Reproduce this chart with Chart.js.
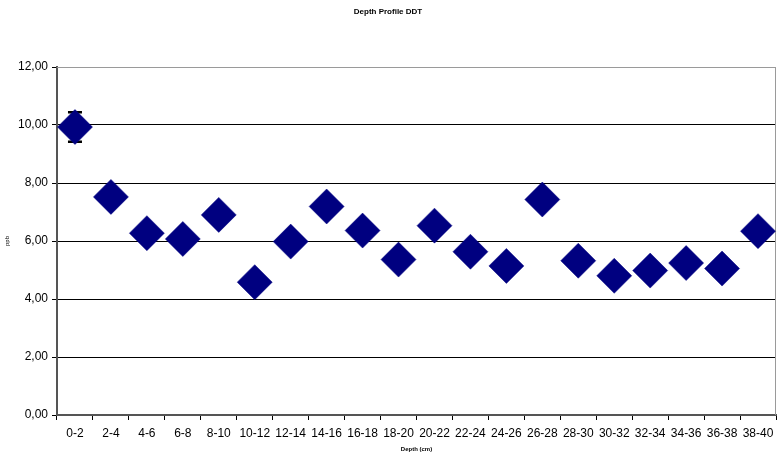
<!DOCTYPE html>
<html lang="en">
  <head>
    <meta charset="UTF-8" />
    <title>Depth Profile DDT</title>
    <style>
      body {
        margin: 0;
        background: #fff;
      }
      canvas {
        display: block;
      }
    </style>
  </head>
  <body>
    <canvas id="depthChart" width="778" height="454"></canvas>

    <script src="https://cdn.jsdelivr.net/npm/chart.js"></script>
    <script>
      // values
      const depths = [
        "0-2", "2-4", "4-6", "6-8", "8-10", "10-12", "12-14", "14-16", "16-18", "18-20",
        "20-22", "22-24", "24-26", "26-28", "28-30", "30-32", "32-34", "34-36", "36-38", "38-40",
      ];
      const ddtPpb = [
        9.93, 7.52, 6.27, 6.07, 6.9, 4.58, 5.98, 7.19, 6.36, 5.36,
        6.53, 5.63, 5.14, 7.43, 5.32, 4.8, 4.98, 5.24, 5.05, 6.34,
      ];
      // only the top slice has a visible error bar
      const ddtError = [
        0.51, null, null, null, null, null, null, null, null, null,
        null, null, null, null, null, null, null, null, null, null,
      ];
      const yTicks = [0, 2, 4, 6, 8, 10, 12];

      const font = "'Liberation Sans', Arial, sans-serif";

      // gray frame round the plot area, like the spreadsheet original
      const plotFrame = {
        id: "plotFrame",
        beforeDatasetsDraw(chart) {
          const { ctx, chartArea: a } = chart;
          ctx.save();
          ctx.strokeStyle = "#9a9a9a";
          ctx.lineWidth = 1;
          ctx.beginPath();
          ctx.moveTo(a.left, a.top + 0.5);
          ctx.lineTo(a.right - 0.5, a.top + 0.5);
          ctx.lineTo(a.right - 0.5, a.bottom);
          ctx.stroke();
          ctx.restore();
        },
      };

      // error bars, drawn under the diamonds
      const errorBars = {
        id: "errorBars",
        beforeDatasetsDraw(chart) {
          const { ctx } = chart;
          const xs = chart.scales.x;
          const ys = chart.scales.y;
          ctx.save();
          ctx.strokeStyle = "#000";
          ddtError.forEach((e, i) => {
            if (e == null) return;
            const x = xs.getPixelForValue(i);
            const yHi = ys.getPixelForValue(ddtPpb[i] + e);
            const yLo = ys.getPixelForValue(ddtPpb[i] - e);
            ctx.lineWidth = 1.5;
            ctx.beginPath();
            ctx.moveTo(x, yHi);
            ctx.lineTo(x, yLo);
            ctx.stroke();
            ctx.lineWidth = 2.5;
            ctx.beginPath();
            ctx.moveTo(x - 7, yHi);
            ctx.lineTo(x + 7, yHi);
            ctx.moveTo(x - 7, yLo);
            ctx.lineTo(x + 7, yLo);
            ctx.stroke();
          });
          ctx.restore();
        },
      };

      new Chart(document.getElementById("depthChart"), {
        type: "line",
        data: {
          labels: depths,
          datasets: [
            {
              label: "DDT",
              data: ddtPpb,
              showLine: false,
              pointStyle: "rectRot",
              pointRadius: 17.5,
              pointHoverRadius: 17.5,
              pointBackgroundColor: "#000080",
              pointBorderColor: "#000080",
              pointBorderWidth: 0.5,
            },
          ],
        },
        options: {
          responsive: false,
          animation: false,
          layout: {
            autoPadding: false,
            padding: { left: 0, right: 2, top: 0, bottom: 0 },
          },
          plugins: {
            legend: { display: false },
            tooltip: { enabled: false },
            title: {
              display: true,
              text: "Depth Profile DDT",
              color: "#000",
              font: { family: font, size: 8, weight: "bold", lineHeight: 1.2 },
              padding: { top: 7, bottom: 50.4 },
            },
          },
          scales: {
            x: {
              offset: true,
              grid: {
                offset: true,
                drawOnChartArea: false,
                drawTicks: true,
                tickLength: 5,
                color: "#000",
              },
              border: { color: "#555", width: 2 },
              ticks: {
                color: "#000",
                font: { family: font, size: 12 },
                padding: 6,
                maxRotation: 0,
                autoSkip: false,
              },
              title: {
                display: true,
                text: "Depth (cm)",
                color: "#000",
                font: { family: font, size: 6, weight: "bold", lineHeight: 1.2 },
                padding: { top: 0, bottom: 1 },
              },
              afterFit(scale) {
                scale.height = 39;
                scale.paddingLeft = 0;
                scale.paddingRight = 0;
              },
            },
            y: {
              min: 0,
              max: 12,
              afterBuildTicks(scale) {
                scale.ticks = yTicks.map((v) => ({ value: v }));
              },
              grid: {
                color: (c) => (c.tick && c.tick.value === 12 ? "#9a9a9a" : "#000"),
                lineWidth: 1,
                drawTicks: true,
                tickLength: 5,
                tickColor: "#000",
              },
              border: { color: "#555", width: 2 },
              ticks: {
                color: "#000",
                font: { family: font, size: 12 },
                padding: 4,
                callback: (v) => v.toFixed(2).replace(".", ","),
              },
              title: {
                display: true,
                text: "ppb",
                color: "#000",
                font: { family: font, size: 6, lineHeight: 1.2 },
                padding: { top: 4, bottom: 0 },
              },
              afterFit(scale) {
                scale.width = 57;
                scale.paddingTop = 0;
                scale.paddingBottom = 0;
              },
            },
          },
        },
        plugins: [plotFrame, errorBars],
      });
    </script>
  </body>
</html>
